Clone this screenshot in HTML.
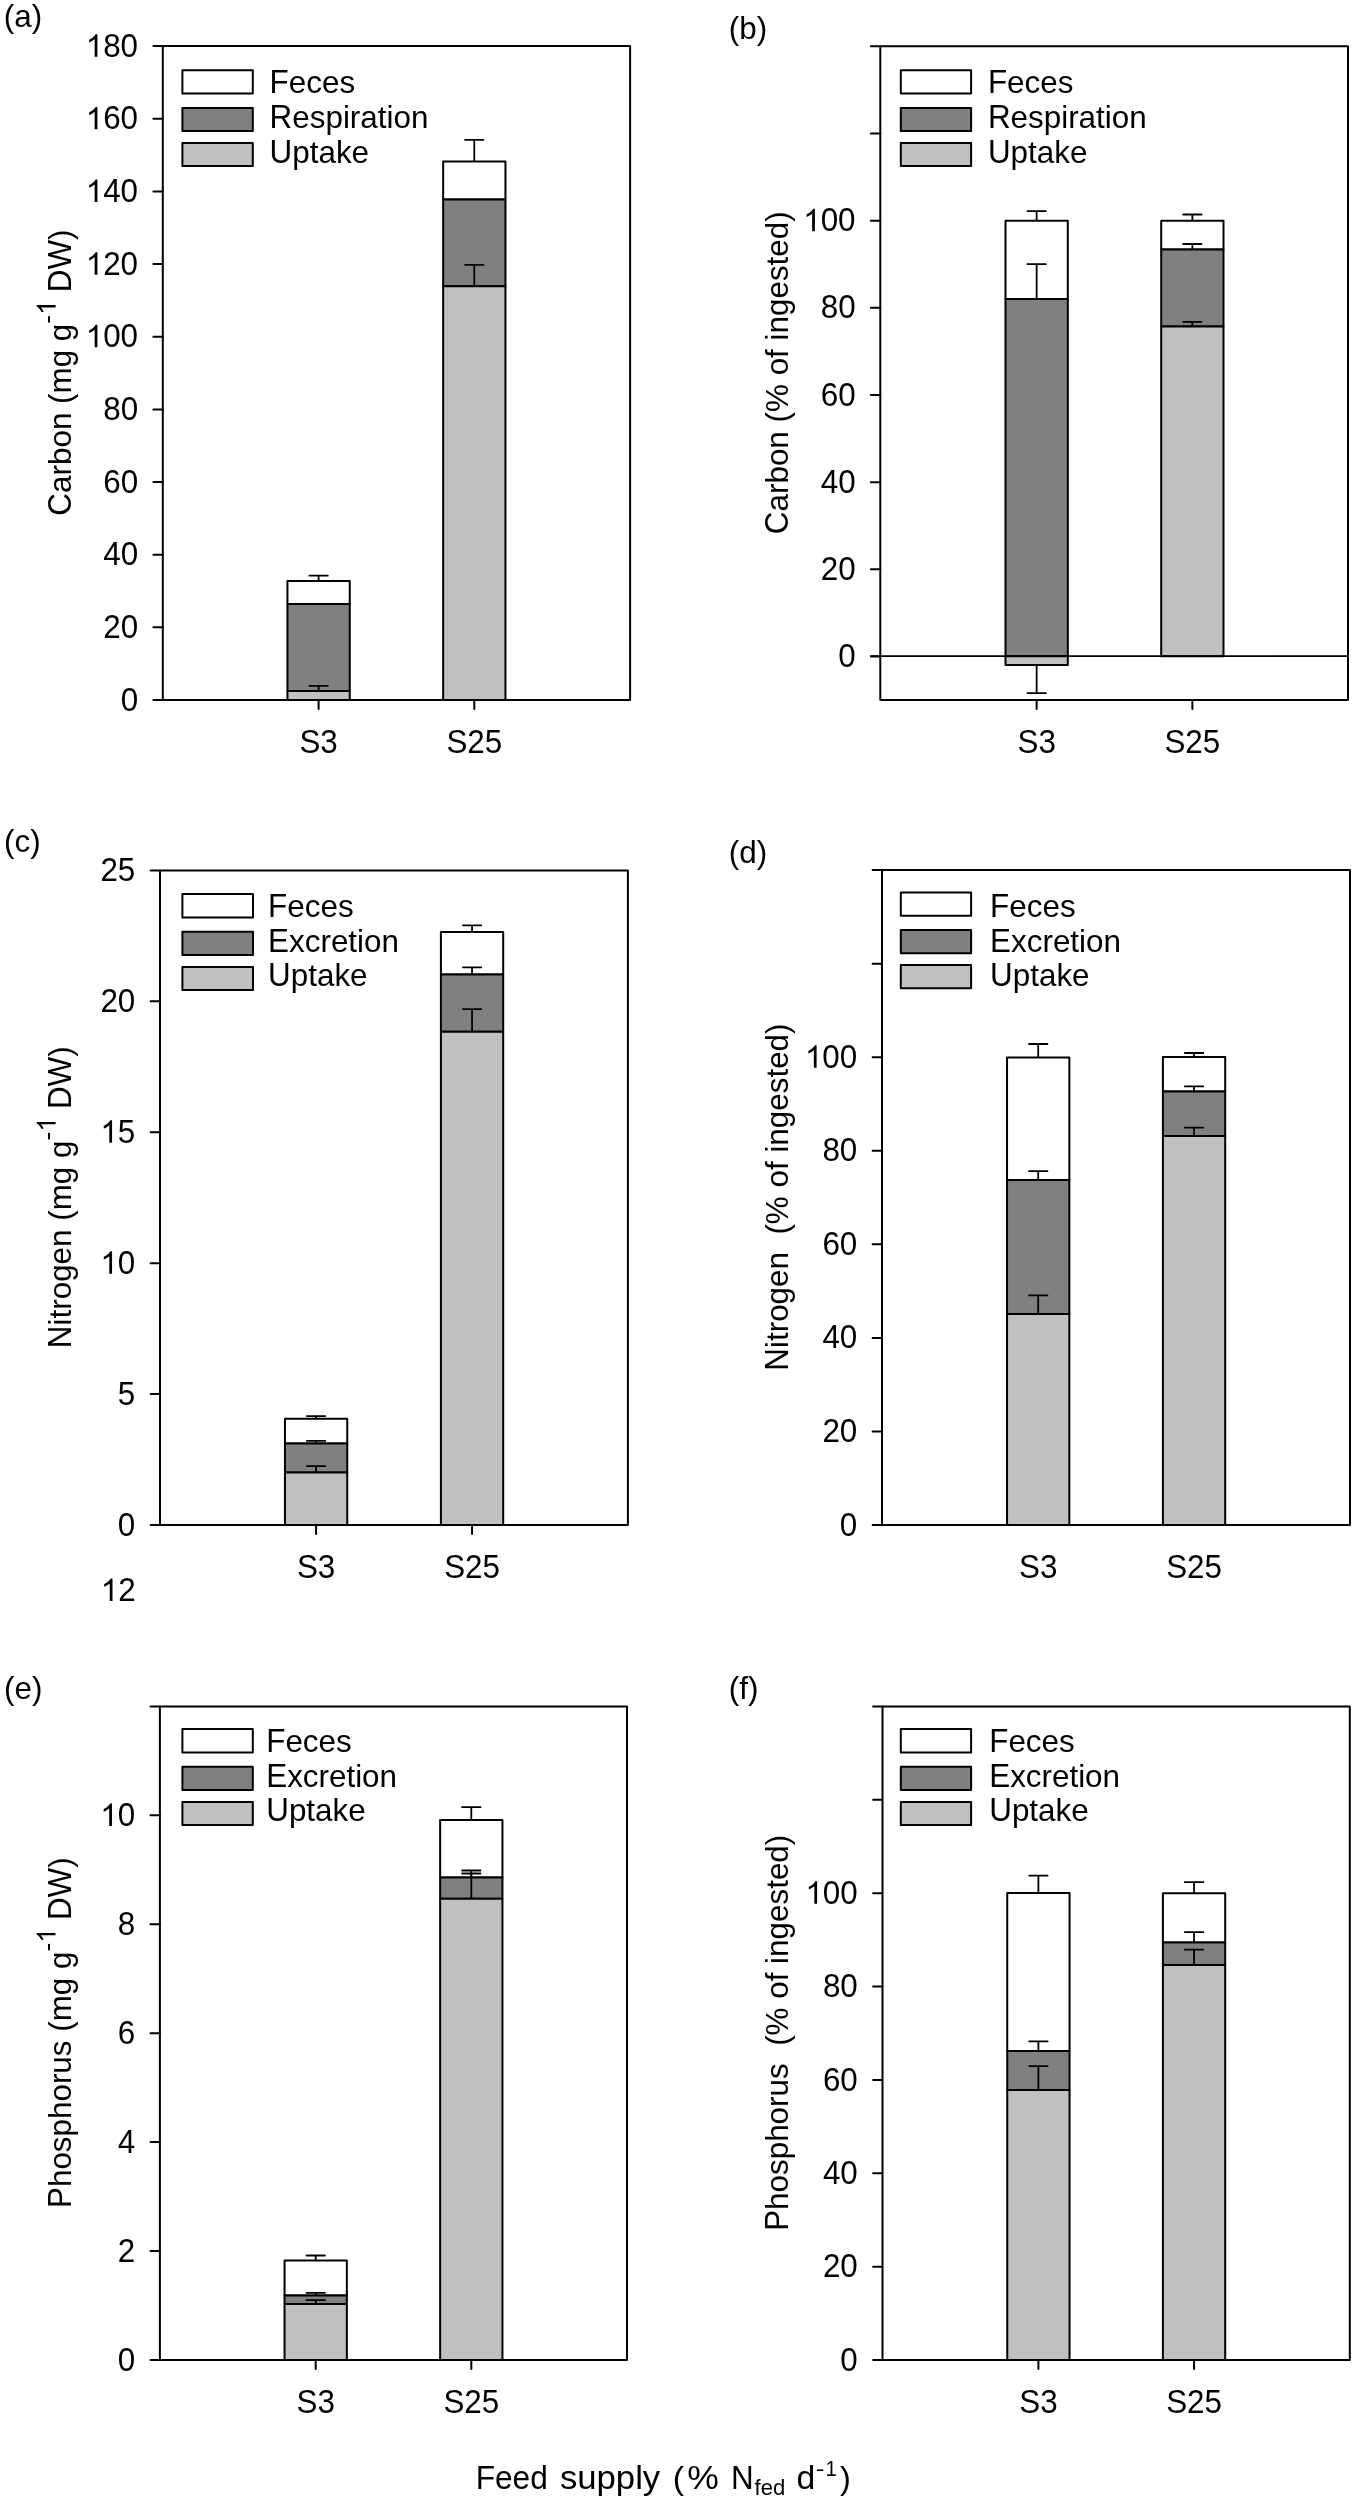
<!DOCTYPE html>
<html><head><meta charset="utf-8"><title>Figure</title>
<style>
html,body{margin:0;padding:0;background:#fff;}
svg{display:block;will-change:transform;}
text{font-family:"Liberation Sans",sans-serif;fill:#000;}
</style></head>
<body>
<svg width="1358" height="2500" viewBox="0 0 1358 2500" stroke="#000">
<rect x="0" y="0" width="1358" height="2500" fill="#fff" stroke="none"/>
<g stroke="#000">
<text stroke="none" x="3.80" y="27.40" text-anchor="start" font-size="31.4" >(a)</text>
<rect x="287.45" y="581.10" width="62.30" height="22.90" fill="#fff" stroke="#000" stroke-width="2" stroke-linejoin="round"/>
<rect x="287.45" y="604.00" width="62.30" height="86.90" fill="#808080" stroke="#000" stroke-width="2" stroke-linejoin="round"/>
<rect x="287.45" y="690.90" width="62.30" height="9.10" fill="#c0c0c0" stroke="#000" stroke-width="2" stroke-linejoin="round"/>
<rect x="443.15" y="161.45" width="62.30" height="37.95" fill="#fff" stroke="#000" stroke-width="2" stroke-linejoin="round"/>
<rect x="443.15" y="199.40" width="62.30" height="86.80" fill="#808080" stroke="#000" stroke-width="2" stroke-linejoin="round"/>
<rect x="443.15" y="286.20" width="62.30" height="413.80" fill="#c0c0c0" stroke="#000" stroke-width="2" stroke-linejoin="round"/>
<line x1="318.60" y1="581.10" x2="318.60" y2="575.70" stroke-width="1.8" stroke-linecap="butt"/>
<line x1="309.40" y1="575.70" x2="327.80" y2="575.70" stroke-width="1.8" stroke-linecap="round"/>
<line x1="318.60" y1="690.90" x2="318.60" y2="685.80" stroke-width="1.8" stroke-linecap="butt"/>
<line x1="309.40" y1="685.80" x2="327.80" y2="685.80" stroke-width="1.8" stroke-linecap="round"/>
<line x1="474.30" y1="161.45" x2="474.30" y2="139.95" stroke-width="1.8" stroke-linecap="butt"/>
<line x1="465.10" y1="139.95" x2="483.50" y2="139.95" stroke-width="1.8" stroke-linecap="round"/>
<line x1="474.30" y1="286.20" x2="474.30" y2="264.95" stroke-width="1.8" stroke-linecap="butt"/>
<line x1="465.10" y1="264.95" x2="483.50" y2="264.95" stroke-width="1.8" stroke-linecap="round"/>
<rect x="162.80" y="46.10" width="467.30" height="653.90" fill="none" stroke="#000" stroke-width="2" stroke-linejoin="round"/>
<line x1="153.40" y1="700.00" x2="162.80" y2="700.00" stroke-width="2" stroke-linecap="round"/>
<text stroke="none" transform="translate(138.10,710.60) scale(1,1.04)" text-anchor="end" font-size="31.4" >0</text>
<line x1="153.40" y1="627.34" x2="162.80" y2="627.34" stroke-width="2" stroke-linecap="round"/>
<text stroke="none" transform="translate(138.10,637.94) scale(1,1.04)" text-anchor="end" font-size="31.4" >20</text>
<line x1="153.40" y1="554.69" x2="162.80" y2="554.69" stroke-width="2" stroke-linecap="round"/>
<text stroke="none" transform="translate(138.10,565.29) scale(1,1.04)" text-anchor="end" font-size="31.4" >40</text>
<line x1="153.40" y1="482.03" x2="162.80" y2="482.03" stroke-width="2" stroke-linecap="round"/>
<text stroke="none" transform="translate(138.10,492.63) scale(1,1.04)" text-anchor="end" font-size="31.4" >60</text>
<line x1="153.40" y1="409.38" x2="162.80" y2="409.38" stroke-width="2" stroke-linecap="round"/>
<text stroke="none" transform="translate(138.10,419.98) scale(1,1.04)" text-anchor="end" font-size="31.4" >80</text>
<line x1="153.40" y1="336.72" x2="162.80" y2="336.72" stroke-width="2" stroke-linecap="round"/>
<text stroke="none" transform="translate(85.71,347.32) scale(1,1.04)" text-anchor="start" font-size="31.4" >&#8199;00</text>
<path transform="translate(85.71,347.32) scale(0.01533,-0.01533)" d="M763,0L583,0L583,1147Q518,1085 465,1054Q412,1023 359.5,992Q307,961 223,930L223,1104Q374,1175 430.5,1225.5Q487,1276 543.5,1326.5Q600,1377 647,1466L763,1466Z" fill="#000" stroke="none"/>
<line x1="153.40" y1="264.07" x2="162.80" y2="264.07" stroke-width="2" stroke-linecap="round"/>
<text stroke="none" transform="translate(85.71,274.67) scale(1,1.04)" text-anchor="start" font-size="31.4" >&#8199;20</text>
<path transform="translate(85.71,274.67) scale(0.01533,-0.01533)" d="M763,0L583,0L583,1147Q518,1085 465,1054Q412,1023 359.5,992Q307,961 223,930L223,1104Q374,1175 430.5,1225.5Q487,1276 543.5,1326.5Q600,1377 647,1466L763,1466Z" fill="#000" stroke="none"/>
<line x1="153.40" y1="191.41" x2="162.80" y2="191.41" stroke-width="2" stroke-linecap="round"/>
<text stroke="none" transform="translate(85.71,202.01) scale(1,1.04)" text-anchor="start" font-size="31.4" >&#8199;40</text>
<path transform="translate(85.71,202.01) scale(0.01533,-0.01533)" d="M763,0L583,0L583,1147Q518,1085 465,1054Q412,1023 359.5,992Q307,961 223,930L223,1104Q374,1175 430.5,1225.5Q487,1276 543.5,1326.5Q600,1377 647,1466L763,1466Z" fill="#000" stroke="none"/>
<line x1="153.40" y1="118.76" x2="162.80" y2="118.76" stroke-width="2" stroke-linecap="round"/>
<text stroke="none" transform="translate(85.71,129.36) scale(1,1.04)" text-anchor="start" font-size="31.4" >&#8199;60</text>
<path transform="translate(85.71,129.36) scale(0.01533,-0.01533)" d="M763,0L583,0L583,1147Q518,1085 465,1054Q412,1023 359.5,992Q307,961 223,930L223,1104Q374,1175 430.5,1225.5Q487,1276 543.5,1326.5Q600,1377 647,1466L763,1466Z" fill="#000" stroke="none"/>
<line x1="153.40" y1="46.10" x2="162.80" y2="46.10" stroke-width="2" stroke-linecap="round"/>
<text stroke="none" transform="translate(85.71,56.70) scale(1,1.04)" text-anchor="start" font-size="31.4" >&#8199;80</text>
<path transform="translate(85.71,56.70) scale(0.01533,-0.01533)" d="M763,0L583,0L583,1147Q518,1085 465,1054Q412,1023 359.5,992Q307,961 223,930L223,1104Q374,1175 430.5,1225.5Q487,1276 543.5,1326.5Q600,1377 647,1466L763,1466Z" fill="#000" stroke="none"/>
<line x1="318.60" y1="700.00" x2="318.60" y2="709.00" stroke-width="2" stroke-linecap="round"/>
<text stroke="none" transform="translate(318.60,753.00) scale(1,1.04)" text-anchor="middle" font-size="31.4" >S3</text>
<line x1="474.30" y1="700.00" x2="474.30" y2="709.00" stroke-width="2" stroke-linecap="round"/>
<text stroke="none" transform="translate(474.30,753.00) scale(1,1.04)" text-anchor="middle" font-size="31.4" >S25</text>
<rect x="182.40" y="70.30" width="70.40" height="23.30" fill="#fff" stroke="#000" stroke-width="2" stroke-linejoin="round"/>
<text stroke="none" transform="translate(269.60,93.10) scale(1,1.04)" font-size="31.4" style="white-space:pre">F</text>
<text stroke="none" x="288.78" y="93.10" font-size="31.4" style="white-space:pre">eces</text>
<rect x="182.40" y="108.00" width="70.40" height="23.10" fill="#808080" stroke="#000" stroke-width="2" stroke-linejoin="round"/>
<text stroke="none" transform="translate(269.60,127.90) scale(1,1.04)" font-size="31.4" style="white-space:pre">R</text>
<text stroke="none" x="292.28" y="127.90" font-size="31.4" style="white-space:pre">espiration</text>
<rect x="182.40" y="143.10" width="70.40" height="22.90" fill="#c0c0c0" stroke="#000" stroke-width="2" stroke-linejoin="round"/>
<text stroke="none" transform="translate(269.60,162.80) scale(1,1.04)" font-size="31.4" style="white-space:pre">U</text>
<text stroke="none" x="292.28" y="162.80" font-size="31.4" style="white-space:pre">ptake</text>
<g transform="translate(70.90,372.55) rotate(-90)">
<text stroke="none" transform="translate(-143.08,0.00) scale(1,1.04)" font-size="31.4" style="white-space:pre">C</text>
<text stroke="none" x="-120.40" y="0.00" font-size="31.4" style="white-space:pre">arbon (mg g</text>
<text stroke="none" x="48.90" y="-15.3" font-size="26.3">-</text>
<path transform="translate(57.66,-15.30) scale(0.01284,-0.01284)" d="M763,0L583,0L583,1147Q518,1085 465,1054Q412,1023 359.5,992Q307,961 223,930L223,1104Q374,1175 430.5,1225.5Q487,1276 543.5,1326.5Q600,1377 647,1466L763,1466Z" fill="#000" stroke="none"/>
<text stroke="none" x="71.58" y="0.00" font-size="31.4" style="white-space:pre"> </text>
<text stroke="none" transform="translate(80.31,0.00) scale(1,1.04)" font-size="31.4" style="white-space:pre">DW</text>
<text stroke="none" x="132.62" y="0.00" font-size="31.4" style="white-space:pre">)</text>
</g>
<text stroke="none" x="728.80" y="38.70" text-anchor="start" font-size="31.4" >(b)</text>
<rect x="1005.50" y="220.80" width="62.30" height="78.20" fill="#fff" stroke="#000" stroke-width="2" stroke-linejoin="round"/>
<rect x="1005.50" y="299.00" width="62.30" height="357.20" fill="#808080" stroke="#000" stroke-width="2" stroke-linejoin="round"/>
<rect x="1005.50" y="656.20" width="62.30" height="8.80" fill="#c0c0c0" stroke="#000" stroke-width="2" stroke-linejoin="round"/>
<rect x="1161.20" y="220.80" width="62.30" height="28.70" fill="#fff" stroke="#000" stroke-width="2" stroke-linejoin="round"/>
<rect x="1161.20" y="249.50" width="62.30" height="76.90" fill="#808080" stroke="#000" stroke-width="2" stroke-linejoin="round"/>
<rect x="1161.20" y="326.40" width="62.30" height="329.80" fill="#c0c0c0" stroke="#000" stroke-width="2" stroke-linejoin="round"/>
<line x1="870.90" y1="656.20" x2="1348.00" y2="656.20" stroke-width="1.8" stroke-linecap="round"/>
<line x1="1036.65" y1="220.80" x2="1036.65" y2="211.05" stroke-width="1.8" stroke-linecap="butt"/>
<line x1="1027.45" y1="211.05" x2="1045.85" y2="211.05" stroke-width="1.8" stroke-linecap="round"/>
<line x1="1036.65" y1="299.00" x2="1036.65" y2="264.20" stroke-width="1.8" stroke-linecap="butt"/>
<line x1="1027.45" y1="264.20" x2="1045.85" y2="264.20" stroke-width="1.8" stroke-linecap="round"/>
<line x1="1036.65" y1="665.00" x2="1036.65" y2="693.20" stroke-width="1.8" stroke-linecap="butt"/>
<line x1="1027.45" y1="693.20" x2="1045.85" y2="693.20" stroke-width="1.8" stroke-linecap="round"/>
<line x1="1192.35" y1="220.80" x2="1192.35" y2="214.50" stroke-width="1.8" stroke-linecap="butt"/>
<line x1="1183.15" y1="214.50" x2="1201.55" y2="214.50" stroke-width="1.8" stroke-linecap="round"/>
<line x1="1192.35" y1="249.50" x2="1192.35" y2="244.00" stroke-width="1.8" stroke-linecap="butt"/>
<line x1="1183.15" y1="244.00" x2="1201.55" y2="244.00" stroke-width="1.8" stroke-linecap="round"/>
<line x1="1192.35" y1="326.40" x2="1192.35" y2="321.80" stroke-width="1.8" stroke-linecap="butt"/>
<line x1="1183.15" y1="321.80" x2="1201.55" y2="321.80" stroke-width="1.8" stroke-linecap="round"/>
<rect x="880.30" y="46.30" width="467.70" height="653.80" fill="none" stroke="#000" stroke-width="2" stroke-linejoin="round"/>
<line x1="870.90" y1="656.51" x2="880.30" y2="656.51" stroke-width="2" stroke-linecap="round"/>
<text stroke="none" transform="translate(855.60,667.11) scale(1,1.04)" text-anchor="end" font-size="31.4" >0</text>
<line x1="870.90" y1="569.34" x2="880.30" y2="569.34" stroke-width="2" stroke-linecap="round"/>
<text stroke="none" transform="translate(855.60,579.94) scale(1,1.04)" text-anchor="end" font-size="31.4" >20</text>
<line x1="870.90" y1="482.17" x2="880.30" y2="482.17" stroke-width="2" stroke-linecap="round"/>
<text stroke="none" transform="translate(855.60,492.77) scale(1,1.04)" text-anchor="end" font-size="31.4" >40</text>
<line x1="870.90" y1="394.99" x2="880.30" y2="394.99" stroke-width="2" stroke-linecap="round"/>
<text stroke="none" transform="translate(855.60,405.59) scale(1,1.04)" text-anchor="end" font-size="31.4" >60</text>
<line x1="870.90" y1="307.82" x2="880.30" y2="307.82" stroke-width="2" stroke-linecap="round"/>
<text stroke="none" transform="translate(855.60,318.42) scale(1,1.04)" text-anchor="end" font-size="31.4" >80</text>
<line x1="870.90" y1="220.65" x2="880.30" y2="220.65" stroke-width="2" stroke-linecap="round"/>
<text stroke="none" transform="translate(803.21,231.25) scale(1,1.04)" text-anchor="start" font-size="31.4" >&#8199;00</text>
<path transform="translate(803.21,231.25) scale(0.01533,-0.01533)" d="M763,0L583,0L583,1147Q518,1085 465,1054Q412,1023 359.5,992Q307,961 223,930L223,1104Q374,1175 430.5,1225.5Q487,1276 543.5,1326.5Q600,1377 647,1466L763,1466Z" fill="#000" stroke="none"/>
<line x1="870.90" y1="133.47" x2="880.30" y2="133.47" stroke-width="2" stroke-linecap="round"/>
<line x1="870.90" y1="46.30" x2="880.30" y2="46.30" stroke-width="2" stroke-linecap="round"/>
<line x1="1036.65" y1="700.10" x2="1036.65" y2="709.10" stroke-width="2" stroke-linecap="round"/>
<text stroke="none" transform="translate(1036.65,753.10) scale(1,1.04)" text-anchor="middle" font-size="31.4" >S3</text>
<line x1="1192.35" y1="700.10" x2="1192.35" y2="709.10" stroke-width="2" stroke-linecap="round"/>
<text stroke="none" transform="translate(1192.35,753.10) scale(1,1.04)" text-anchor="middle" font-size="31.4" >S25</text>
<rect x="900.80" y="70.30" width="70.30" height="23.30" fill="#fff" stroke="#000" stroke-width="2" stroke-linejoin="round"/>
<text stroke="none" transform="translate(987.90,93.10) scale(1,1.04)" font-size="31.4" style="white-space:pre">F</text>
<text stroke="none" x="1007.08" y="93.10" font-size="31.4" style="white-space:pre">eces</text>
<rect x="900.80" y="108.00" width="70.30" height="23.10" fill="#808080" stroke="#000" stroke-width="2" stroke-linejoin="round"/>
<text stroke="none" transform="translate(987.90,128.10) scale(1,1.04)" font-size="31.4" style="white-space:pre">R</text>
<text stroke="none" x="1010.58" y="128.10" font-size="31.4" style="white-space:pre">espiration</text>
<rect x="900.80" y="143.10" width="70.30" height="22.90" fill="#c0c0c0" stroke="#000" stroke-width="2" stroke-linejoin="round"/>
<text stroke="none" transform="translate(987.90,163.10) scale(1,1.04)" font-size="31.4" style="white-space:pre">U</text>
<text stroke="none" x="1010.58" y="163.10" font-size="31.4" style="white-space:pre">ptake</text>
<g transform="translate(788.10,372.70) rotate(-90)">
<text stroke="none" transform="translate(-161.45,0.00) scale(1,1.04)" font-size="31.4" style="white-space:pre">C</text>
<text stroke="none" x="-138.77" y="0.00" font-size="31.4" style="white-space:pre">arbon (% of ingested)</text>
</g>
<text stroke="none" x="4.10" y="852.00" text-anchor="start" font-size="31.4" >(c)</text>
<rect x="284.95" y="1418.80" width="62.30" height="24.60" fill="#fff" stroke="#000" stroke-width="2" stroke-linejoin="round"/>
<rect x="284.95" y="1443.40" width="62.30" height="29.10" fill="#808080" stroke="#000" stroke-width="2" stroke-linejoin="round"/>
<rect x="284.95" y="1472.50" width="62.30" height="52.50" fill="#c0c0c0" stroke="#000" stroke-width="2" stroke-linejoin="round"/>
<rect x="440.90" y="932.10" width="62.30" height="42.50" fill="#fff" stroke="#000" stroke-width="2" stroke-linejoin="round"/>
<rect x="440.90" y="974.60" width="62.30" height="57.10" fill="#808080" stroke="#000" stroke-width="2" stroke-linejoin="round"/>
<rect x="440.90" y="1031.70" width="62.30" height="493.30" fill="#c0c0c0" stroke="#000" stroke-width="2" stroke-linejoin="round"/>
<line x1="316.10" y1="1418.80" x2="316.10" y2="1416.05" stroke-width="1.8" stroke-linecap="butt"/>
<line x1="306.90" y1="1416.05" x2="325.30" y2="1416.05" stroke-width="1.8" stroke-linecap="round"/>
<line x1="316.10" y1="1443.40" x2="316.10" y2="1440.90" stroke-width="1.8" stroke-linecap="butt"/>
<line x1="306.90" y1="1440.90" x2="325.30" y2="1440.90" stroke-width="1.8" stroke-linecap="round"/>
<line x1="316.10" y1="1472.50" x2="316.10" y2="1466.10" stroke-width="1.8" stroke-linecap="butt"/>
<line x1="306.90" y1="1466.10" x2="325.30" y2="1466.10" stroke-width="1.8" stroke-linecap="round"/>
<line x1="472.05" y1="932.10" x2="472.05" y2="925.30" stroke-width="1.8" stroke-linecap="butt"/>
<line x1="462.85" y1="925.30" x2="481.25" y2="925.30" stroke-width="1.8" stroke-linecap="round"/>
<line x1="472.05" y1="974.60" x2="472.05" y2="967.30" stroke-width="1.8" stroke-linecap="butt"/>
<line x1="462.85" y1="967.30" x2="481.25" y2="967.30" stroke-width="1.8" stroke-linecap="round"/>
<line x1="472.05" y1="1031.70" x2="472.05" y2="1009.10" stroke-width="1.8" stroke-linecap="butt"/>
<line x1="462.85" y1="1009.10" x2="481.25" y2="1009.10" stroke-width="1.8" stroke-linecap="round"/>
<rect x="160.00" y="870.40" width="467.90" height="654.60" fill="none" stroke="#000" stroke-width="2" stroke-linejoin="round"/>
<line x1="150.60" y1="1525.00" x2="160.00" y2="1525.00" stroke-width="2" stroke-linecap="round"/>
<text stroke="none" transform="translate(135.30,1535.60) scale(1,1.04)" text-anchor="end" font-size="31.4" >0</text>
<line x1="150.60" y1="1394.08" x2="160.00" y2="1394.08" stroke-width="2" stroke-linecap="round"/>
<text stroke="none" transform="translate(135.30,1404.68) scale(1,1.04)" text-anchor="end" font-size="31.4" >5</text>
<line x1="150.60" y1="1263.16" x2="160.00" y2="1263.16" stroke-width="2" stroke-linecap="round"/>
<text stroke="none" transform="translate(100.37,1273.76) scale(1,1.04)" text-anchor="start" font-size="31.4" >&#8199;0</text>
<path transform="translate(100.37,1273.76) scale(0.01533,-0.01533)" d="M763,0L583,0L583,1147Q518,1085 465,1054Q412,1023 359.5,992Q307,961 223,930L223,1104Q374,1175 430.5,1225.5Q487,1276 543.5,1326.5Q600,1377 647,1466L763,1466Z" fill="#000" stroke="none"/>
<line x1="150.60" y1="1132.24" x2="160.00" y2="1132.24" stroke-width="2" stroke-linecap="round"/>
<text stroke="none" transform="translate(100.37,1142.84) scale(1,1.04)" text-anchor="start" font-size="31.4" >&#8199;5</text>
<path transform="translate(100.37,1142.84) scale(0.01533,-0.01533)" d="M763,0L583,0L583,1147Q518,1085 465,1054Q412,1023 359.5,992Q307,961 223,930L223,1104Q374,1175 430.5,1225.5Q487,1276 543.5,1326.5Q600,1377 647,1466L763,1466Z" fill="#000" stroke="none"/>
<line x1="150.60" y1="1001.32" x2="160.00" y2="1001.32" stroke-width="2" stroke-linecap="round"/>
<text stroke="none" transform="translate(135.30,1011.92) scale(1,1.04)" text-anchor="end" font-size="31.4" >20</text>
<line x1="150.60" y1="870.40" x2="160.00" y2="870.40" stroke-width="2" stroke-linecap="round"/>
<text stroke="none" transform="translate(135.30,881.00) scale(1,1.04)" text-anchor="end" font-size="31.4" >25</text>
<line x1="316.10" y1="1525.00" x2="316.10" y2="1534.00" stroke-width="2" stroke-linecap="round"/>
<text stroke="none" transform="translate(316.10,1578.00) scale(1,1.04)" text-anchor="middle" font-size="31.4" >S3</text>
<line x1="472.05" y1="1525.00" x2="472.05" y2="1534.00" stroke-width="2" stroke-linecap="round"/>
<text stroke="none" transform="translate(472.05,1578.00) scale(1,1.04)" text-anchor="middle" font-size="31.4" >S25</text>
<rect x="182.40" y="893.90" width="70.60" height="23.70" fill="#fff" stroke="#000" stroke-width="2" stroke-linejoin="round"/>
<text stroke="none" transform="translate(268.10,917.00) scale(1,1.04)" font-size="31.4" style="white-space:pre">F</text>
<text stroke="none" x="287.28" y="917.00" font-size="31.4" style="white-space:pre">eces</text>
<rect x="182.40" y="931.70" width="70.60" height="23.40" fill="#808080" stroke="#000" stroke-width="2" stroke-linejoin="round"/>
<text stroke="none" transform="translate(268.10,951.80) scale(1,1.04)" font-size="31.4" style="white-space:pre">E</text>
<text stroke="none" x="289.04" y="951.80" font-size="31.4" style="white-space:pre">xcretion</text>
<rect x="182.40" y="966.90" width="70.60" height="23.10" fill="#c0c0c0" stroke="#000" stroke-width="2" stroke-linejoin="round"/>
<text stroke="none" transform="translate(268.10,986.30) scale(1,1.04)" font-size="31.4" style="white-space:pre">U</text>
<text stroke="none" x="290.78" y="986.30" font-size="31.4" style="white-space:pre">ptake</text>
<g transform="translate(70.90,1197.20) rotate(-90)">
<text stroke="none" transform="translate(-150.93,0.00) scale(1,1.04)" font-size="31.4" style="white-space:pre">N</text>
<text stroke="none" x="-128.25" y="0.00" font-size="31.4" style="white-space:pre">itrogen (mg g</text>
<text stroke="none" x="56.75" y="-15.3" font-size="26.3">-</text>
<path transform="translate(65.51,-15.30) scale(0.01284,-0.01284)" d="M763,0L583,0L583,1147Q518,1085 465,1054Q412,1023 359.5,992Q307,961 223,930L223,1104Q374,1175 430.5,1225.5Q487,1276 543.5,1326.5Q600,1377 647,1466L763,1466Z" fill="#000" stroke="none"/>
<text stroke="none" x="79.43" y="0.00" font-size="31.4" style="white-space:pre"> </text>
<text stroke="none" transform="translate(88.16,0.00) scale(1,1.04)" font-size="31.4" style="white-space:pre">DW</text>
<text stroke="none" x="140.47" y="0.00" font-size="31.4" style="white-space:pre">)</text>
</g>
<text stroke="none" x="728.80" y="862.60" text-anchor="start" font-size="31.4" >(d)</text>
<rect x="1007.05" y="1057.40" width="62.30" height="122.50" fill="#fff" stroke="#000" stroke-width="2" stroke-linejoin="round"/>
<rect x="1007.05" y="1179.90" width="62.30" height="134.10" fill="#808080" stroke="#000" stroke-width="2" stroke-linejoin="round"/>
<rect x="1007.05" y="1314.00" width="62.30" height="211.00" fill="#c0c0c0" stroke="#000" stroke-width="2" stroke-linejoin="round"/>
<rect x="1162.90" y="1057.10" width="62.30" height="34.40" fill="#fff" stroke="#000" stroke-width="2" stroke-linejoin="round"/>
<rect x="1162.90" y="1091.50" width="62.30" height="44.40" fill="#808080" stroke="#000" stroke-width="2" stroke-linejoin="round"/>
<rect x="1162.90" y="1135.90" width="62.30" height="389.10" fill="#c0c0c0" stroke="#000" stroke-width="2" stroke-linejoin="round"/>
<line x1="1038.20" y1="1057.40" x2="1038.20" y2="1044.00" stroke-width="1.8" stroke-linecap="butt"/>
<line x1="1029.00" y1="1044.00" x2="1047.40" y2="1044.00" stroke-width="1.8" stroke-linecap="round"/>
<line x1="1038.20" y1="1179.90" x2="1038.20" y2="1171.20" stroke-width="1.8" stroke-linecap="butt"/>
<line x1="1029.00" y1="1171.20" x2="1047.40" y2="1171.20" stroke-width="1.8" stroke-linecap="round"/>
<line x1="1038.20" y1="1314.00" x2="1038.20" y2="1295.40" stroke-width="1.8" stroke-linecap="butt"/>
<line x1="1029.00" y1="1295.40" x2="1047.40" y2="1295.40" stroke-width="1.8" stroke-linecap="round"/>
<line x1="1194.05" y1="1057.10" x2="1194.05" y2="1053.00" stroke-width="1.8" stroke-linecap="butt"/>
<line x1="1184.85" y1="1053.00" x2="1203.25" y2="1053.00" stroke-width="1.8" stroke-linecap="round"/>
<line x1="1194.05" y1="1091.50" x2="1194.05" y2="1086.40" stroke-width="1.8" stroke-linecap="butt"/>
<line x1="1184.85" y1="1086.40" x2="1203.25" y2="1086.40" stroke-width="1.8" stroke-linecap="round"/>
<line x1="1194.05" y1="1135.90" x2="1194.05" y2="1127.60" stroke-width="1.8" stroke-linecap="butt"/>
<line x1="1184.85" y1="1127.60" x2="1203.25" y2="1127.60" stroke-width="1.8" stroke-linecap="round"/>
<rect x="882.00" y="870.10" width="468.00" height="654.90" fill="none" stroke="#000" stroke-width="2" stroke-linejoin="round"/>
<line x1="872.60" y1="1525.00" x2="882.00" y2="1525.00" stroke-width="2" stroke-linecap="round"/>
<text stroke="none" transform="translate(857.30,1535.60) scale(1,1.04)" text-anchor="end" font-size="31.4" >0</text>
<line x1="872.60" y1="1431.44" x2="882.00" y2="1431.44" stroke-width="2" stroke-linecap="round"/>
<text stroke="none" transform="translate(857.30,1442.04) scale(1,1.04)" text-anchor="end" font-size="31.4" >20</text>
<line x1="872.60" y1="1337.89" x2="882.00" y2="1337.89" stroke-width="2" stroke-linecap="round"/>
<text stroke="none" transform="translate(857.30,1348.49) scale(1,1.04)" text-anchor="end" font-size="31.4" >40</text>
<line x1="872.60" y1="1244.33" x2="882.00" y2="1244.33" stroke-width="2" stroke-linecap="round"/>
<text stroke="none" transform="translate(857.30,1254.93) scale(1,1.04)" text-anchor="end" font-size="31.4" >60</text>
<line x1="872.60" y1="1150.77" x2="882.00" y2="1150.77" stroke-width="2" stroke-linecap="round"/>
<text stroke="none" transform="translate(857.30,1161.37) scale(1,1.04)" text-anchor="end" font-size="31.4" >80</text>
<line x1="872.60" y1="1057.21" x2="882.00" y2="1057.21" stroke-width="2" stroke-linecap="round"/>
<text stroke="none" transform="translate(804.91,1067.81) scale(1,1.04)" text-anchor="start" font-size="31.4" >&#8199;00</text>
<path transform="translate(804.91,1067.81) scale(0.01533,-0.01533)" d="M763,0L583,0L583,1147Q518,1085 465,1054Q412,1023 359.5,992Q307,961 223,930L223,1104Q374,1175 430.5,1225.5Q487,1276 543.5,1326.5Q600,1377 647,1466L763,1466Z" fill="#000" stroke="none"/>
<line x1="872.60" y1="963.66" x2="882.00" y2="963.66" stroke-width="2" stroke-linecap="round"/>
<line x1="872.60" y1="870.10" x2="882.00" y2="870.10" stroke-width="2" stroke-linecap="round"/>
<text stroke="none" transform="translate(1038.20,1578.00) scale(1,1.04)" text-anchor="middle" font-size="31.4" >S3</text>
<text stroke="none" transform="translate(1194.05,1578.00) scale(1,1.04)" text-anchor="middle" font-size="31.4" >S25</text>
<rect x="900.80" y="892.40" width="70.30" height="23.40" fill="#fff" stroke="#000" stroke-width="2" stroke-linejoin="round"/>
<text stroke="none" transform="translate(990.10,916.70) scale(1,1.04)" font-size="31.4" style="white-space:pre">F</text>
<text stroke="none" x="1009.28" y="916.70" font-size="31.4" style="white-space:pre">eces</text>
<rect x="900.80" y="929.90" width="70.30" height="23.30" fill="#808080" stroke="#000" stroke-width="2" stroke-linejoin="round"/>
<text stroke="none" transform="translate(990.10,951.50) scale(1,1.04)" font-size="31.4" style="white-space:pre">E</text>
<text stroke="none" x="1011.04" y="951.50" font-size="31.4" style="white-space:pre">xcretion</text>
<rect x="900.80" y="965.10" width="70.30" height="23.10" fill="#c0c0c0" stroke="#000" stroke-width="2" stroke-linejoin="round"/>
<text stroke="none" transform="translate(990.10,986.40) scale(1,1.04)" font-size="31.4" style="white-space:pre">U</text>
<text stroke="none" x="1012.78" y="986.40" font-size="31.4" style="white-space:pre">ptake</text>
<g transform="translate(788.10,1197.05) rotate(-90)">
<text stroke="none" transform="translate(-173.66,0.00) scale(1,1.04)" font-size="31.4" style="white-space:pre">N</text>
<text stroke="none" x="-150.98" y="0.00" font-size="31.4" style="white-space:pre">itrogen  (% of ingested)</text>
</g>
<text stroke="none" x="4.10" y="1699.00" text-anchor="start" font-size="31.4" >(e)</text>
<rect x="284.55" y="2260.50" width="62.30" height="35.00" fill="#fff" stroke="#000" stroke-width="2" stroke-linejoin="round"/>
<rect x="284.55" y="2295.50" width="62.30" height="8.50" fill="#808080" stroke="#000" stroke-width="2" stroke-linejoin="round"/>
<rect x="284.55" y="2304.00" width="62.30" height="55.90" fill="#c0c0c0" stroke="#000" stroke-width="2" stroke-linejoin="round"/>
<rect x="440.15" y="1820.00" width="62.30" height="57.50" fill="#fff" stroke="#000" stroke-width="2" stroke-linejoin="round"/>
<rect x="440.15" y="1877.50" width="62.30" height="21.20" fill="#808080" stroke="#000" stroke-width="2" stroke-linejoin="round"/>
<rect x="440.15" y="1898.70" width="62.30" height="461.20" fill="#c0c0c0" stroke="#000" stroke-width="2" stroke-linejoin="round"/>
<line x1="315.70" y1="2260.50" x2="315.70" y2="2255.50" stroke-width="1.8" stroke-linecap="butt"/>
<line x1="306.50" y1="2255.50" x2="324.90" y2="2255.50" stroke-width="1.8" stroke-linecap="round"/>
<line x1="315.70" y1="2295.50" x2="315.70" y2="2292.90" stroke-width="1.8" stroke-linecap="butt"/>
<line x1="306.50" y1="2292.90" x2="324.90" y2="2292.90" stroke-width="1.8" stroke-linecap="round"/>
<line x1="315.70" y1="2304.00" x2="315.70" y2="2300.20" stroke-width="1.8" stroke-linecap="butt"/>
<line x1="306.50" y1="2300.20" x2="324.90" y2="2300.20" stroke-width="1.8" stroke-linecap="round"/>
<line x1="471.30" y1="1820.00" x2="471.30" y2="1807.20" stroke-width="1.8" stroke-linecap="butt"/>
<line x1="462.10" y1="1807.20" x2="480.50" y2="1807.20" stroke-width="1.8" stroke-linecap="round"/>
<line x1="471.30" y1="1877.50" x2="471.30" y2="1870.50" stroke-width="1.8" stroke-linecap="butt"/>
<line x1="462.10" y1="1870.50" x2="480.50" y2="1870.50" stroke-width="1.8" stroke-linecap="round"/>
<line x1="471.30" y1="1898.70" x2="471.30" y2="1873.50" stroke-width="1.8" stroke-linecap="butt"/>
<line x1="462.10" y1="1873.50" x2="480.50" y2="1873.50" stroke-width="1.8" stroke-linecap="round"/>
<rect x="159.90" y="1706.40" width="467.10" height="653.50" fill="none" stroke="#000" stroke-width="2" stroke-linejoin="round"/>
<line x1="150.50" y1="2359.90" x2="159.90" y2="2359.90" stroke-width="2" stroke-linecap="round"/>
<text stroke="none" transform="translate(135.20,2370.50) scale(1,1.04)" text-anchor="end" font-size="31.4" >0</text>
<line x1="150.50" y1="2250.98" x2="159.90" y2="2250.98" stroke-width="2" stroke-linecap="round"/>
<text stroke="none" transform="translate(135.20,2261.58) scale(1,1.04)" text-anchor="end" font-size="31.4" >2</text>
<line x1="150.50" y1="2142.07" x2="159.90" y2="2142.07" stroke-width="2" stroke-linecap="round"/>
<text stroke="none" transform="translate(135.20,2152.67) scale(1,1.04)" text-anchor="end" font-size="31.4" >4</text>
<line x1="150.50" y1="2033.15" x2="159.90" y2="2033.15" stroke-width="2" stroke-linecap="round"/>
<text stroke="none" transform="translate(135.20,2043.75) scale(1,1.04)" text-anchor="end" font-size="31.4" >6</text>
<line x1="150.50" y1="1924.23" x2="159.90" y2="1924.23" stroke-width="2" stroke-linecap="round"/>
<text stroke="none" transform="translate(135.20,1934.83) scale(1,1.04)" text-anchor="end" font-size="31.4" >8</text>
<line x1="150.50" y1="1815.32" x2="159.90" y2="1815.32" stroke-width="2" stroke-linecap="round"/>
<text stroke="none" transform="translate(100.27,1825.92) scale(1,1.04)" text-anchor="start" font-size="31.4" >&#8199;0</text>
<path transform="translate(100.27,1825.92) scale(0.01533,-0.01533)" d="M763,0L583,0L583,1147Q518,1085 465,1054Q412,1023 359.5,992Q307,961 223,930L223,1104Q374,1175 430.5,1225.5Q487,1276 543.5,1326.5Q600,1377 647,1466L763,1466Z" fill="#000" stroke="none"/>
<line x1="150.50" y1="1706.40" x2="159.90" y2="1706.40" stroke-width="2" stroke-linecap="round"/>
<line x1="315.70" y1="2359.90" x2="315.70" y2="2368.90" stroke-width="2" stroke-linecap="round"/>
<text stroke="none" transform="translate(315.70,2412.90) scale(1,1.04)" text-anchor="middle" font-size="31.4" >S3</text>
<line x1="471.30" y1="2359.90" x2="471.30" y2="2368.90" stroke-width="2" stroke-linecap="round"/>
<text stroke="none" transform="translate(471.30,2412.90) scale(1,1.04)" text-anchor="middle" font-size="31.4" >S25</text>
<rect x="182.40" y="1728.90" width="70.40" height="23.70" fill="#fff" stroke="#000" stroke-width="2" stroke-linejoin="round"/>
<text stroke="none" transform="translate(266.20,1751.90) scale(1,1.04)" font-size="31.4" style="white-space:pre">F</text>
<text stroke="none" x="285.38" y="1751.90" font-size="31.4" style="white-space:pre">eces</text>
<rect x="182.40" y="1766.70" width="70.40" height="23.20" fill="#808080" stroke="#000" stroke-width="2" stroke-linejoin="round"/>
<text stroke="none" transform="translate(266.20,1787.00) scale(1,1.04)" font-size="31.4" style="white-space:pre">E</text>
<text stroke="none" x="287.14" y="1787.00" font-size="31.4" style="white-space:pre">xcretion</text>
<rect x="182.40" y="1801.90" width="70.40" height="23.10" fill="#c0c0c0" stroke="#000" stroke-width="2" stroke-linejoin="round"/>
<text stroke="none" transform="translate(266.20,1821.40) scale(1,1.04)" font-size="31.4" style="white-space:pre">U</text>
<text stroke="none" x="288.88" y="1821.40" font-size="31.4" style="white-space:pre">ptake</text>
<g transform="translate(70.80,2032.65) rotate(-90)">
<text stroke="none" transform="translate(-175.37,0.00) scale(1,1.04)" font-size="31.4" style="white-space:pre">P</text>
<text stroke="none" x="-154.43" y="0.00" font-size="31.4" style="white-space:pre">hosphorus (mg g</text>
<text stroke="none" x="81.19" y="-15.3" font-size="26.3">-</text>
<path transform="translate(89.95,-15.30) scale(0.01284,-0.01284)" d="M763,0L583,0L583,1147Q518,1085 465,1054Q412,1023 359.5,992Q307,961 223,930L223,1104Q374,1175 430.5,1225.5Q487,1276 543.5,1326.5Q600,1377 647,1466L763,1466Z" fill="#000" stroke="none"/>
<text stroke="none" x="103.88" y="0.00" font-size="31.4" style="white-space:pre"> </text>
<text stroke="none" transform="translate(112.60,0.00) scale(1,1.04)" font-size="31.4" style="white-space:pre">DW</text>
<text stroke="none" x="164.92" y="0.00" font-size="31.4" style="white-space:pre">)</text>
</g>
<text stroke="none" x="728.80" y="1699.00" text-anchor="start" font-size="31.4" >(f)</text>
<rect x="1007.25" y="1893.10" width="62.30" height="157.90" fill="#fff" stroke="#000" stroke-width="2" stroke-linejoin="round"/>
<rect x="1007.25" y="2051.00" width="62.30" height="39.00" fill="#808080" stroke="#000" stroke-width="2" stroke-linejoin="round"/>
<rect x="1007.25" y="2090.00" width="62.30" height="270.10" fill="#c0c0c0" stroke="#000" stroke-width="2" stroke-linejoin="round"/>
<rect x="1162.90" y="1893.20" width="62.30" height="49.30" fill="#fff" stroke="#000" stroke-width="2" stroke-linejoin="round"/>
<rect x="1162.90" y="1942.50" width="62.30" height="22.60" fill="#808080" stroke="#000" stroke-width="2" stroke-linejoin="round"/>
<rect x="1162.90" y="1965.10" width="62.30" height="395.00" fill="#c0c0c0" stroke="#000" stroke-width="2" stroke-linejoin="round"/>
<line x1="1038.40" y1="1893.10" x2="1038.40" y2="1875.60" stroke-width="1.8" stroke-linecap="butt"/>
<line x1="1029.20" y1="1875.60" x2="1047.60" y2="1875.60" stroke-width="1.8" stroke-linecap="round"/>
<line x1="1038.40" y1="2051.00" x2="1038.40" y2="2041.40" stroke-width="1.8" stroke-linecap="butt"/>
<line x1="1029.20" y1="2041.40" x2="1047.60" y2="2041.40" stroke-width="1.8" stroke-linecap="round"/>
<line x1="1038.40" y1="2090.00" x2="1038.40" y2="2066.10" stroke-width="1.8" stroke-linecap="butt"/>
<line x1="1029.20" y1="2066.10" x2="1047.60" y2="2066.10" stroke-width="1.8" stroke-linecap="round"/>
<line x1="1194.05" y1="1893.20" x2="1194.05" y2="1882.15" stroke-width="1.8" stroke-linecap="butt"/>
<line x1="1184.85" y1="1882.15" x2="1203.25" y2="1882.15" stroke-width="1.8" stroke-linecap="round"/>
<line x1="1194.05" y1="1942.50" x2="1194.05" y2="1932.20" stroke-width="1.8" stroke-linecap="butt"/>
<line x1="1184.85" y1="1932.20" x2="1203.25" y2="1932.20" stroke-width="1.8" stroke-linecap="round"/>
<line x1="1194.05" y1="1965.10" x2="1194.05" y2="1949.70" stroke-width="1.8" stroke-linecap="butt"/>
<line x1="1184.85" y1="1949.70" x2="1203.25" y2="1949.70" stroke-width="1.8" stroke-linecap="round"/>
<rect x="882.50" y="1706.40" width="467.30" height="653.70" fill="none" stroke="#000" stroke-width="2" stroke-linejoin="round"/>
<line x1="873.10" y1="2360.10" x2="882.50" y2="2360.10" stroke-width="2" stroke-linecap="round"/>
<text stroke="none" transform="translate(857.80,2370.70) scale(1,1.04)" text-anchor="end" font-size="31.4" >0</text>
<line x1="873.10" y1="2266.71" x2="882.50" y2="2266.71" stroke-width="2" stroke-linecap="round"/>
<text stroke="none" transform="translate(857.80,2277.31) scale(1,1.04)" text-anchor="end" font-size="31.4" >20</text>
<line x1="873.10" y1="2173.33" x2="882.50" y2="2173.33" stroke-width="2" stroke-linecap="round"/>
<text stroke="none" transform="translate(857.80,2183.93) scale(1,1.04)" text-anchor="end" font-size="31.4" >40</text>
<line x1="873.10" y1="2079.94" x2="882.50" y2="2079.94" stroke-width="2" stroke-linecap="round"/>
<text stroke="none" transform="translate(857.80,2090.54) scale(1,1.04)" text-anchor="end" font-size="31.4" >60</text>
<line x1="873.10" y1="1986.56" x2="882.50" y2="1986.56" stroke-width="2" stroke-linecap="round"/>
<text stroke="none" transform="translate(857.80,1997.16) scale(1,1.04)" text-anchor="end" font-size="31.4" >80</text>
<line x1="873.10" y1="1893.17" x2="882.50" y2="1893.17" stroke-width="2" stroke-linecap="round"/>
<text stroke="none" transform="translate(805.41,1903.77) scale(1,1.04)" text-anchor="start" font-size="31.4" >&#8199;00</text>
<path transform="translate(805.41,1903.77) scale(0.01533,-0.01533)" d="M763,0L583,0L583,1147Q518,1085 465,1054Q412,1023 359.5,992Q307,961 223,930L223,1104Q374,1175 430.5,1225.5Q487,1276 543.5,1326.5Q600,1377 647,1466L763,1466Z" fill="#000" stroke="none"/>
<line x1="873.10" y1="1799.79" x2="882.50" y2="1799.79" stroke-width="2" stroke-linecap="round"/>
<line x1="873.10" y1="1706.40" x2="882.50" y2="1706.40" stroke-width="2" stroke-linecap="round"/>
<line x1="1038.40" y1="2360.10" x2="1038.40" y2="2369.10" stroke-width="2" stroke-linecap="round"/>
<text stroke="none" transform="translate(1038.40,2413.10) scale(1,1.04)" text-anchor="middle" font-size="31.4" >S3</text>
<line x1="1194.05" y1="2360.10" x2="1194.05" y2="2369.10" stroke-width="2" stroke-linecap="round"/>
<text stroke="none" transform="translate(1194.05,2413.10) scale(1,1.04)" text-anchor="middle" font-size="31.4" >S25</text>
<rect x="900.80" y="1728.90" width="70.30" height="23.70" fill="#fff" stroke="#000" stroke-width="2" stroke-linejoin="round"/>
<text stroke="none" transform="translate(989.20,1751.90) scale(1,1.04)" font-size="31.4" style="white-space:pre">F</text>
<text stroke="none" x="1008.38" y="1751.90" font-size="31.4" style="white-space:pre">eces</text>
<rect x="900.80" y="1766.70" width="70.30" height="23.40" fill="#808080" stroke="#000" stroke-width="2" stroke-linejoin="round"/>
<text stroke="none" transform="translate(989.20,1786.70) scale(1,1.04)" font-size="31.4" style="white-space:pre">E</text>
<text stroke="none" x="1010.14" y="1786.70" font-size="31.4" style="white-space:pre">xcretion</text>
<rect x="900.80" y="1801.90" width="70.30" height="23.10" fill="#c0c0c0" stroke="#000" stroke-width="2" stroke-linejoin="round"/>
<text stroke="none" transform="translate(989.20,1821.40) scale(1,1.04)" font-size="31.4" style="white-space:pre">U</text>
<text stroke="none" x="1011.88" y="1821.40" font-size="31.4" style="white-space:pre">ptake</text>
<g transform="translate(787.80,2032.75) rotate(-90)">
<text stroke="none" transform="translate(-198.11,0.00) scale(1,1.04)" font-size="31.4" style="white-space:pre">P</text>
<text stroke="none" x="-177.16" y="0.00" font-size="31.4" style="white-space:pre">hosphorus  (% of ingested)</text>
</g>
<text stroke="none" transform="translate(100.80,1601.00) scale(1,1.04)" text-anchor="start" font-size="31.4" >&#8199;2</text>
<path transform="translate(100.80,1601.00) scale(0.01533,-0.01533)" d="M763,0L583,0L583,1147Q518,1085 465,1054Q412,1023 359.5,992Q307,961 223,930L223,1104Q374,1175 430.5,1225.5Q487,1276 543.5,1326.5Q600,1377 647,1466L763,1466Z" fill="#000" stroke="none"/>
<text stroke="none" transform="translate(475.69,2488.80) scale(1.0052,1.05)" font-size="31.5">Feed</text>
<text stroke="none" transform="translate(559.90,2488.80) scale(1.1022,1.06)" font-size="31.5">supply</text>
<text stroke="none" transform="translate(672.74,2488.80) scale(1.0788,1.02)" font-size="31.5">(</text>
<text stroke="none" transform="translate(687.27,2488.80) scale(1.1269,1.03)" font-size="31.5">%</text>
<text stroke="none" transform="translate(731.01,2488.80) scale(0.9972,1.045)" font-size="31.5">N</text>
<text stroke="none" transform="translate(754.53,2494.80) scale(1.0679,1.035)" font-size="20.7">fed</text>
<text stroke="none" transform="translate(796.56,2488.80) scale(1.0737,1.048)" font-size="31.5">d</text>
<text stroke="none" transform="translate(815.74,2476.40) scale(1.2600,1.0)" font-size="20.7">-</text>
<text stroke="none" transform="translate(825.53,2476.40) scale(0.9778,1.04)" font-size="20.7">1</text>
<text stroke="none" transform="translate(839.94,2488.80) scale(1.0303,1.02)" font-size="31.5">)</text>
</g>
</svg>
</body></html>
